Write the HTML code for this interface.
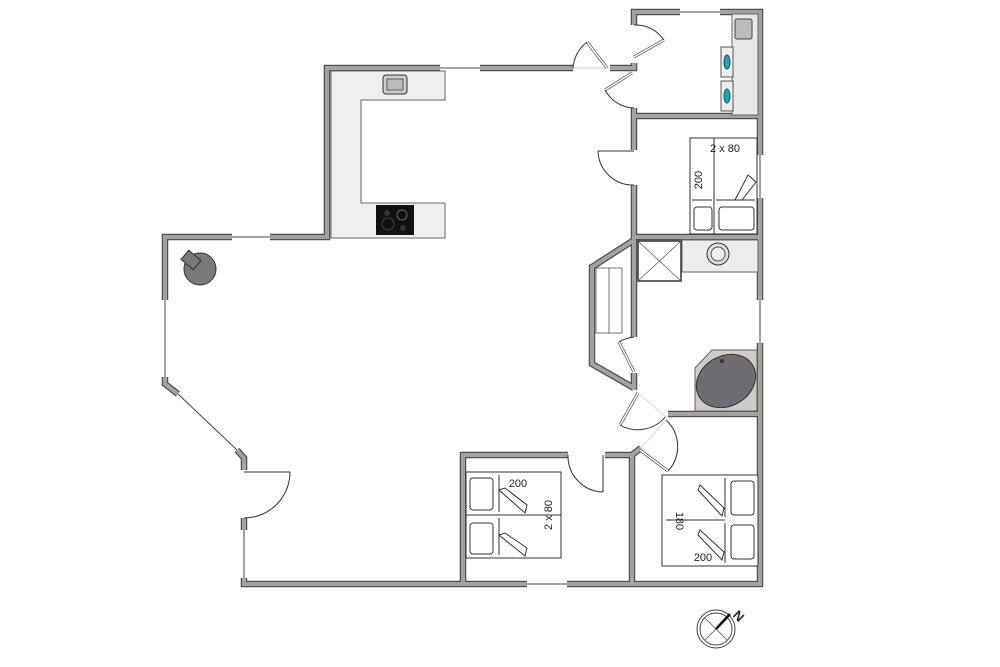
<!DOCTYPE html>
<html><head><meta charset="utf-8"><style>
html,body{margin:0;padding:0;background:#fff;}
svg{display:block;}
text{font-family:"Liberation Sans",sans-serif;fill:#222;}
</style></head><body>
<svg width="1000" height="667" viewBox="0 0 1000 667" xmlns="http://www.w3.org/2000/svg">
<defs>
<g id="walls" fill="none" stroke-linejoin="miter" stroke-linecap="butt">
  <polyline points="232,237 165,237 165,300"/>
  <polyline points="270,237 327,237 327,68 440,68"/>
  <polyline points="480,68 573,68"/>
  <polyline points="610,68 634,68 634,63"/>
  <polyline points="634,25 634,12 680,12"/>
  <polyline points="720,12 760,12 760,155"/>
  <polyline points="760,198 760,300"/>
  <polyline points="760,343 760,584 567,584"/>
  <polyline points="527,584 244,584 244,578"/>
  <polyline points="244,530 244,518"/>
  <polyline points="244,470 244,458 237,450"/>
  <polyline points="165,377 165,384 178,394"/>
  <polyline points="634,108 634,150"/>
  <polyline points="634,185 634,240 592,267 592,364 634,388"/>
  <polyline points="634,240 634,337"/>
  <polyline points="634,373 634,390"/>
  <polyline points="634,116 760,116"/>
  <polyline points="634,237 760,237"/>
  <polyline points="668,414 760,414"/>
  <polyline points="463,584 463,455 568,455"/>
  <polyline points="605,455 632,455 632,584"/>
  <polyline points="632,455 641,448"/>
</g>
</defs>
<use href="#walls" stroke="#505050" stroke-width="6.5"/>
<use href="#walls" stroke="#a3a3a3" stroke-width="4"/>

<!-- windows -->
<g stroke="#444" stroke-width="1" fill="none">
  <line x1="232" y1="237" x2="270" y2="237"/>
  <line x1="440" y1="68" x2="480" y2="68"/>
  <line x1="680" y1="12" x2="720" y2="12"/>
  <line x1="760" y1="155" x2="760" y2="198"/>
  <line x1="760" y1="300" x2="760" y2="343"/>
  <line x1="527" y1="584" x2="567" y2="584"/>
  <line x1="165" y1="300" x2="165" y2="377"/>
  <line x1="178" y1="394" x2="237" y2="450"/>
  <line x1="244" y1="530" x2="244" y2="578"/>
  <line x1="573" y1="68" x2="610" y2="68" stroke="#ccc"/>
</g>

<!-- doors -->
<g stroke="#333" stroke-width="1" fill="none">
  <!-- entrance left -->
  <line x1="244" y1="472" x2="290" y2="472"/>
  <path d="M290,472 A46,46 0 0 1 244,518"/>
  <!-- top door near kitchen -->
  <line x1="607" y1="68" x2="587" y2="42" stroke-width="3" stroke="#555"/>
  <line x1="607" y1="68" x2="587" y2="42" stroke-width="1.5" stroke="#fff"/>
  <path d="M573,68 A36,36 0 0 1 587,42"/>
  <!-- utility doors -->
  <line x1="634" y1="57" x2="664" y2="40" stroke-width="3" stroke="#555"/>
  <line x1="634" y1="57" x2="664" y2="40" stroke-width="1.5" stroke="#fff"/>
  <path d="M634,25 A34,34 0 0 1 664,40"/>
  <line x1="632" y1="73" x2="605" y2="90" stroke-width="3" stroke="#555"/>
  <line x1="632" y1="73" x2="605" y2="90" stroke-width="1.5" stroke="#fff"/>
  <path d="M605,90 A34,34 0 0 0 634,108"/>
  <!-- bedroom top door -->
  <line x1="634" y1="151" x2="598" y2="151"/>
  <path d="M598,151 A35,35 0 0 0 634,185"/>
  <!-- closet door -->
  <line x1="634" y1="372" x2="619" y2="342" stroke-width="3" stroke="#555"/>
  <line x1="634" y1="372" x2="619" y2="342" stroke-width="1.5" stroke="#fff"/>
  <path d="M619,342 A34,34 0 0 1 634,337"/>
  <!-- diagonal doors -->
  <line x1="638" y1="393" x2="620" y2="425" stroke-width="3" stroke="#555"/>
  <line x1="638" y1="393" x2="620" y2="425" stroke-width="1.5" stroke="#fff"/>
  <path d="M620,425 A36,36 0 0 0 666,416"/>
  <line x1="640" y1="450" x2="668" y2="471" stroke-width="3" stroke="#555"/>
  <line x1="640" y1="450" x2="668" y2="471" stroke-width="1.5" stroke="#fff"/>
  <path d="M668,471 A36,36 0 0 0 666,420"/>
  <line x1="638" y1="393" x2="666" y2="417" stroke="#ddd"/>
  <line x1="666" y1="420" x2="641" y2="448" stroke="#ddd"/>
  <!-- middle bedroom door -->
  <line x1="603" y1="455" x2="603" y2="492"/>
  <path d="M568,455 A36,36 0 0 0 603,492"/>
</g>

<!-- kitchen counter -->
<path d="M331,71 H445 V100 H361 V203 H445 V238 H331 Z" fill="#efefef" stroke="#666" stroke-width="1"/>
<rect x="383" y="75" width="24" height="19" rx="3" fill="#ccc" stroke="#333"/>
<rect x="387" y="79" width="16" height="11" fill="#bbb" stroke="#333" stroke-width="0.7"/>
<rect x="376" y="205" width="38" height="30" fill="#111"/>
<circle cx="402" cy="215" r="5" fill="none" stroke="#666"/>
<circle cx="388" cy="224" r="6" fill="none" stroke="#444"/>
<circle cx="387" cy="213" r="3" fill="#333"/>
<circle cx="403" cy="228" r="3" fill="#333"/>

<!-- stove -->
<circle cx="200" cy="269" r="16" fill="#7a7a7a" stroke="#333"/>
<rect x="183" y="254" width="16" height="12" fill="#7a7a7a" stroke="#333" transform="rotate(40 191 260)"/>

<!-- utility counter -->
<rect x="732" y="14" width="26" height="101" fill="#e8e8e8" stroke="#666"/>
<rect x="735" y="19" width="17" height="20" rx="2" fill="#bbb" stroke="#444"/>
<rect x="721" y="47" width="12" height="30" fill="#eee" stroke="#555"/>
<rect x="721" y="81" width="12" height="30" fill="#eee" stroke="#555"/>
<ellipse cx="727" cy="62" rx="3" ry="7" fill="#2aa3b8" stroke="#155"/>
<ellipse cx="727" cy="96" rx="3" ry="7" fill="#2aa3b8" stroke="#155"/>

<!-- top right bed -->
<g fill="#fff" stroke="#333" stroke-width="1">
  <rect x="690" y="138" width="67" height="96"/>
  <line x1="714" y1="138" x2="714" y2="234"/>
  <rect x="694" y="207" width="18" height="23" rx="3"/>
  <rect x="719" y="207" width="35" height="23" rx="3"/>
  <line x1="692" y1="200" x2="712" y2="200"/>
  <line x1="716" y1="200" x2="755" y2="200"/>
  <path d="M735,200 L748,175 L756,182 L742,200 Z"/>
</g>
<text x="725" y="152" font-size="11" text-anchor="middle">2 x 80</text>
<text x="702" y="180" font-size="11" text-anchor="middle" transform="rotate(-90 702 180)">200</text>

<!-- shower -->
<rect x="638" y="241" width="43" height="40" fill="#fff" stroke="#333" stroke-width="1.5"/>
<line x1="638" y1="241" x2="681" y2="281" stroke="#555" stroke-width="0.7"/>
<line x1="681" y1="241" x2="638" y2="281" stroke="#555" stroke-width="0.7"/>
<rect x="682" y="240" width="76" height="32" fill="#ececec" stroke="#666"/>
<circle cx="718" cy="254" r="11" fill="#ddd" stroke="#333"/>
<circle cx="718" cy="254" r="7" fill="#eee" stroke="#555"/>

<!-- closet shelf -->
<rect x="596" y="268" width="26" height="65" fill="#fff" stroke="#555" stroke-width="0.8"/>
<line x1="609" y1="268" x2="609" y2="333" stroke="#555" stroke-width="0.8"/>

<!-- bathtub -->
<polygon points="712,350 757,350 757,411 695,411 695,368" fill="#cfcbc6" stroke="#666"/>
<ellipse cx="726" cy="381" rx="31" ry="25" transform="rotate(-30 726 381)" fill="#6e6e72" stroke="#333"/>
<circle cx="722" cy="361" r="2" fill="#333"/>

<!-- middle bed -->
<g fill="#fff" stroke="#333" stroke-width="1">
  <rect x="466" y="472" width="95" height="86"/>
  <line x1="466" y1="515" x2="561" y2="515"/>
  <rect x="470" y="478" width="23" height="32" rx="3"/>
  <rect x="470" y="523" width="23" height="31" rx="3"/>
  <line x1="499" y1="475" x2="499" y2="512"/>
  <line x1="499" y1="518" x2="499" y2="555"/>
  <path d="M499,490 L525,513 L527,505 L505,488 Z"/>
  <path d="M499,535 L525,556 L527,548 L505,533 Z"/>
</g>
<text x="518" y="487" font-size="11" text-anchor="middle">200</text>
<text x="552" y="515" font-size="11" text-anchor="middle" transform="rotate(-90 552 515)">2 x 80</text>

<!-- right bed -->
<g fill="#fff" stroke="#333" stroke-width="1">
  <rect x="662" y="475" width="96" height="91"/>
  <line x1="666" y1="520" x2="725" y2="520"/>
  <rect x="731" y="481" width="23" height="34" rx="3"/>
  <rect x="731" y="525" width="23" height="34" rx="3"/>
  <line x1="725" y1="478" x2="725" y2="517"/>
  <line x1="725" y1="523" x2="725" y2="563"/>
  <path d="M700,485 L724,508 L722,516 L698,490 Z"/>
  <path d="M700,530 L724,552 L722,560 L698,535 Z"/>
</g>
<text x="703" y="561" font-size="11" text-anchor="middle">200</text>
<text x="676" y="521" font-size="11" text-anchor="middle" transform="rotate(90 676 521)">180</text>

<!-- compass -->
<circle cx="716" cy="629" r="19" fill="none" stroke="#444" stroke-width="1"/>
<circle cx="716" cy="629" r="16" fill="none" stroke="#444" stroke-width="1"/>
<line x1="705" y1="618" x2="727" y2="640" stroke="#555" stroke-width="0.8"/>
<line x1="727" y1="618" x2="705" y2="640" stroke="#555" stroke-width="0.8"/>
<line x1="716" y1="629" x2="730" y2="614" stroke="#111" stroke-width="2.5"/>
<text x="735" y="617" font-size="13" font-weight="bold" transform="rotate(45 735 613)">N</text>
</svg>
</body></html>
